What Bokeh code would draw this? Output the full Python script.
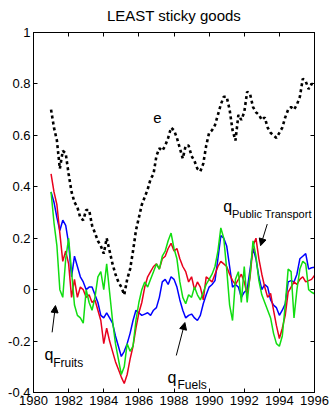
from bokeh.plotting import figure
from bokeh.models import (FixedTicker, LinearAxis, Range1d, Label, Arrow, NormalHead,
                          ColumnDataSource, CustomJSTickFormatter)
from bokeh.embed import file_html
from bokeh.resources import INLINE

# time grid: every two months, 1981.0 .. 1996.0
years = [1981 + i / 6 for i in range(91)]

e_vals = [0.70, 0.63, 0.58, 0.47, 0.54, 0.53, 0.45, 0.38, 0.34, 0.32, 0.28, 0.27,
          0.31, 0.31, 0.25, 0.22, 0.19, 0.17, 0.14, 0.20, 0.15, 0.10, 0.06, 0.03,
          0.01, -0.02, 0.04, 0.08, 0.15, 0.23, 0.28, 0.33, 0.36, 0.39, 0.43, 0.45,
          0.52, 0.55, 0.54, 0.56, 0.59, 0.63, 0.62, 0.59, 0.55, 0.51, 0.56, 0.56,
          0.52, 0.50, 0.47, 0.46, 0.49, 0.56, 0.61, 0.62, 0.64, 0.68, 0.72, 0.75,
          0.75, 0.70, 0.62, 0.58, 0.68, 0.66, 0.69, 0.77, 0.76, 0.71, 0.69, 0.68,
          0.66, 0.67, 0.63, 0.61, 0.60, 0.59, 0.61, 0.63, 0.67, 0.70, 0.71, 0.70,
          0.72, 0.75, 0.82, 0.81, 0.78, 0.80, 0.80]

q_public_transport = [0.45, 0.38, 0.33, 0.22, 0.11, 0.15, 0.10, -0.03, 0.04, -0.03, 0.01, 0.00,
                      -0.03, -0.02, -0.05, -0.04, -0.08, -0.12, -0.21, -0.15, -0.20, -0.24, -0.28, -0.31,
                      -0.34, -0.365, -0.33, -0.27, -0.22, -0.15, -0.09, -0.05, 0.01, 0.05, 0.07, 0.09,
                      0.10, 0.08, 0.12, 0.13, 0.16, 0.18, 0.15, 0.16, 0.12, 0.09, 0.07, 0.03,
                      0.05, 0.00, 0.03, 0.01, -0.04, 0.05, 0.04, 0.03, 0.06, 0.09, 0.11, 0.10,
                      0.09, 0.06, 0.035, 0.02, 0.04, 0.06, 0.03, -0.02, 0.05, 0.17, 0.20, 0.12,
                      0.06, 0.01, -0.03, -0.015, -0.08, -0.14, -0.19, -0.15, -0.10, -0.01, 0.01, 0.03,
                      0.02, 0.04, 0.05, 0.03, 0.035, 0.04, 0.055]

q_fruits = [0.38, 0.26, 0.17, 0.00, -0.03, 0.12, 0.20, 0.07, -0.06, -0.10, -0.11, -0.13,
            0.00, -0.05, -0.08, -0.03, 0.05, 0.07, 0.00, 0.10, -0.01, -0.12, -0.21, -0.27,
            -0.33, -0.30, -0.21, -0.24, -0.22, -0.12, -0.05, 0.00, 0.03, 0.01, 0.04, 0.07,
            0.10, 0.08, 0.13, 0.15, 0.19, 0.22, 0.16, 0.12, 0.03, -0.03, -0.055, -0.02,
            -0.03, 0.01, -0.02, -0.04, -0.01, 0.02, 0.04, 0.06, 0.09, 0.15, 0.24, 0.20,
            0.08, -0.06, -0.12, 0.04, 0.07, -0.05, 0.09, -0.05, 0.06, 0.19, 0.13, 0.035,
            -0.02, -0.05, -0.08, -0.11, -0.17, -0.21, -0.22, -0.18, -0.06, 0.08, 0.07, -0.11,
            0.00, 0.08, 0.11, 0.10, 0.00, -0.01, -0.016]

q_fuels = [0.38, 0.34, 0.28, 0.23, 0.27, 0.25, 0.18, 0.05, 0.13, 0.09, 0.05, 0.03,
           0.00, 0.01, 0.01, -0.02, -0.05, -0.10, -0.11, -0.09, -0.11, -0.13, -0.18, -0.22,
           -0.26, -0.24, -0.21, -0.17, -0.12, -0.08, -0.09, -0.10, -0.095, -0.09, -0.10, -0.08,
           -0.07, -0.03, 0.03, 0.04, 0.02, 0.05, 0.04, 0.01, -0.04, -0.08, -0.11, -0.10,
           -0.095, -0.11, -0.12, -0.10, -0.055, -0.02, 0.01, 0.02, 0.035, 0.12, 0.21, 0.20,
           0.17, 0.09, 0.01, 0.02, 0.01, -0.03, -0.01, 0.00, 0.08, 0.16, 0.12, 0.05,
           0.00, 0.02, 0.01, -0.04, -0.06, -0.07, -0.10, -0.08, -0.055, 0.03, 0.035, 0.03,
           0.06, 0.12, 0.13, 0.14, 0.08, 0.085, 0.087]

x_ticks = [1980, 1982, 1984, 1986, 1988, 1990, 1992, 1994, 1996]
y_ticks = [-0.4, -0.2, 0, 0.2, 0.4, 0.6, 0.8, 1]
y_tick_labels = ["-0.4", "-0.2", "0", "0.2", "0.4", "0.6", "0.8", "1"]

FONT = "Liberation Sans"

p = figure(width=329, height=411, output_backend="svg", toolbar_location=None,
           x_range=Range1d(1980, 1996), y_range=Range1d(-0.4, 1.0),
           title="LEAST sticky goods",
           min_border_left=33, min_border_right=15, min_border_top=32, min_border_bottom=19)
p.title.align = "center"
p.title.vertical_align = "top"
p.title.text_font = FONT
p.title.text_font_size = "15px"
p.title.text_font_style = "normal"
p.title.text_color = "black"
p.title.standoff = 13
p.grid.visible = False
p.outline_line_color = "black"
p.outline_line_width = 1
p.background_fill_color = "white"
p.border_fill_color = "white"

def style_axis(ax, ticks, labels=None, show=True):
    ax.ticker = FixedTicker(ticks=ticks)
    ax.major_tick_in = 4
    ax.major_tick_out = 0
    ax.minor_tick_in = 0
    ax.minor_tick_out = 0
    ax.axis_line_color = "black"
    ax.major_tick_line_color = "black"
    ax.major_label_text_font = FONT
    ax.major_label_text_color = "black"
    ax.major_label_text_font_size = "13px"
    if show:
        ax.major_label_standoff = 3
        ax.major_label_overrides = {t: l for t, l in zip(ticks, labels)}
    else:
        ax.major_label_standoff = 0
        ax.formatter = CustomJSTickFormatter(code="return '';")

style_axis(p.xaxis[0], x_ticks, [str(t) for t in x_ticks])
style_axis(p.yaxis[0], y_ticks, y_tick_labels)

ax_top = LinearAxis()
style_axis(ax_top, x_ticks, show=False)
p.add_layout(ax_top, "above")
ax_right = LinearAxis()
style_axis(ax_right, y_ticks, show=False)
p.add_layout(ax_right, "right")

src = ColumnDataSource(dict(t=years, e=e_vals, pt=q_public_transport,
                            fr=q_fruits, fu=q_fuels))

p.line("t", "e", source=src, line_color="black", line_width=2.6, line_dash="3 3")
p.line("t", "fu", source=src, line_color="#0000ff", line_width=1.5)
p.line("t", "pt", source=src, line_color="#e8001c", line_width=1.5)
p.line("t", "fr", source=src, line_color="#11dd11", line_width=1.5)

def add_text(x, y, text, size, align="left", baseline="alphabetic"):
    p.add_layout(Label(x=x, y=y, text=text, text_font=FONT, text_font_size=size,
                       text_align=align, text_baseline=baseline, text_color="black"))

add_text(1987.06, 0.668, "e", "15px", align="center", baseline="middle")
add_text(1980.63, -0.252, "q", "16px")
add_text(1981.12, -0.287, "Fruits", "12px")
add_text(1987.63, -0.342, "q", "16px")
add_text(1988.2, -0.369, "Fuels", "12px")
add_text(1990.8, 0.322, "q", "16px")
add_text(1991.3, 0.295, "Public Transport", "11px")

for (x0, y0, x1, y1) in [(1981.06, -0.166, 1981.25, -0.062),
                         (1988.13, -0.256, 1988.62, -0.128),
                         (1993.31, 0.255, 1992.93, 0.171)]:
    p.add_layout(Arrow(x_start=x0, y_start=y0, x_end=x1, y_end=y1, line_width=1,
                       line_color="black",
                       end=NormalHead(size=7, fill_color="black", line_color="black")))

open("out.html", "w").write(file_html(p, INLINE))
